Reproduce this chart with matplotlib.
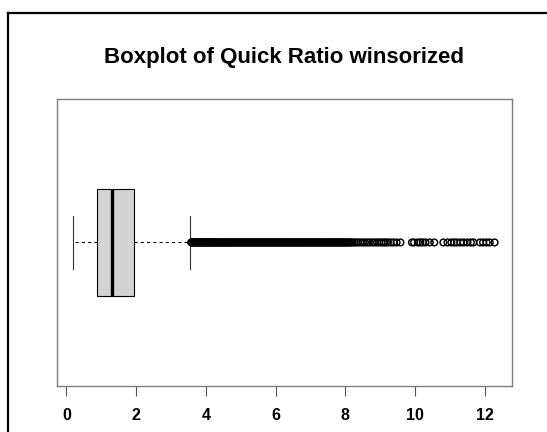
import matplotlib
matplotlib.use("Agg")
import matplotlib.pyplot as plt
from matplotlib.lines import Line2D

# Five-number summary of the winsorized quick ratio
whisker_low = 0.20
q1 = 0.87
median = 1.30
q3 = 1.95
whisker_high = 3.55

# Values beyond the upper whisker
outliers = [
    3.58, 3.60, 3.62, 3.64, 3.66, 3.68, 3.71, 3.73, 3.75, 3.77, 3.79, 3.81,
    3.84, 3.86, 3.88, 3.90, 3.92, 3.95, 3.97, 3.99,
    4.01, 4.03, 4.06, 4.08, 4.10, 4.12, 4.15, 4.17, 4.19, 4.21, 4.24, 4.26,
    4.28, 4.30, 4.33, 4.35, 4.37, 4.40, 4.42, 4.44,
    4.46, 4.49, 4.51, 4.53, 4.56, 4.58, 4.60, 4.63, 4.65, 4.67, 4.70, 4.72,
    4.74, 4.77, 4.79, 4.81, 4.84, 4.86, 4.89, 4.91,
    4.93, 4.96, 4.98, 5.01, 5.03, 5.05, 5.08, 5.10, 5.13, 5.15, 5.18, 5.20,
    5.22, 5.25, 5.27, 5.30, 5.32, 5.35, 5.37, 5.40,
    5.42, 5.45, 5.47, 5.50, 5.52, 5.55, 5.57, 5.60, 5.62, 5.65, 5.67, 5.70,
    5.72, 5.75, 5.77, 5.80, 5.83, 5.85, 5.88, 5.90,
    5.93, 5.95, 5.98, 6.01, 6.03, 6.06, 6.08, 6.11, 6.14, 6.16, 6.19, 6.21,
    6.24, 6.27, 6.29, 6.32, 6.35, 6.37, 6.40, 6.43,
    6.45, 6.48, 6.51, 6.53, 6.56, 6.59, 6.61, 6.64, 6.67, 6.69, 6.72, 6.75,
    6.78, 6.80, 6.83, 6.86, 6.88, 6.91, 6.94, 6.97,
    6.99, 7.02, 7.05, 7.08, 7.10, 7.13, 7.16, 7.19, 7.21, 7.24, 7.27, 7.30,
    7.33, 7.35, 7.38, 7.41, 7.44, 7.47, 7.49, 7.52,
    7.55, 7.58, 7.61, 7.63, 7.66, 7.69, 7.72, 7.75, 7.78, 7.80, 7.83, 7.86,
    7.89, 7.92, 7.95, 7.98, 8.01, 8.04, 8.07, 8.10,
    8.13, 8.17, 8.20,
    8.26, 8.31, 8.36, 8.43, 8.50, 8.56, 8.63, 8.70, 8.78, 8.84, 8.91, 8.97,
    9.04, 9.10, 9.16, 9.22, 9.30, 9.38, 9.47, 9.58,
    9.91, 9.97, 10.08, 10.15, 10.22, 10.30, 10.42, 10.55,
    10.81, 10.93, 11.04, 11.12, 11.20, 11.30, 11.39, 11.50, 11.60, 11.67,
    11.86, 11.95, 12.05, 12.14, 12.28,
]

title = "Boxplot of Quick Ratio winsorized"
x_ticks = [0, 2, 4, 6, 8, 10, 12]

W, H, DPI = 547, 432, 100
fig = plt.figure(figsize=(W / DPI, H / DPI), dpi=DPI)
fig.patch.set_facecolor("white")

font = ["Liberation Sans", "DejaVu Sans"]

ax = fig.add_axes([56.9 / W, 1 - 386.2 / H, (511.7 - 56.9) / W, (386.2 - 98.7) / H])

stats = [{
    "whislo": whisker_low, "q1": q1, "med": median, "q3": q3,
    "whishi": whisker_high, "fliers": [],
}]
ax.bxp(
    stats,
    positions=[1],
    widths=0.4,
    capwidths=0.2,
    orientation="horizontal",
    patch_artist=True,
    showfliers=False,
    boxprops=dict(facecolor="#d3d3d3", edgecolor="black", linewidth=0.8),
    medianprops=dict(color="black", linewidth=2.4, solid_capstyle="butt"),
    whiskerprops=dict(color="black", linewidth=0.75, linestyle=(0, (3, 3))),
    capprops=dict(color="#333333", linewidth=0.8),
)

# Outlying observations as open circles on the box's centre line
ax.scatter(outliers, [1] * len(outliers), s=4.8 ** 2, marker="o",
           facecolors="none", edgecolors="black", linewidths=1.05, zorder=3)

ax.set_xlim(-0.27, 12.77)
ax.set_ylim(0.46, 1.54)
ax.set_yticks([])
ax.set_xticks(x_ticks)
ax.set_xticklabels([str(t) for t in x_ticks], fontfamily=font,
                   fontweight="bold", fontsize=11.5)
ax.tick_params(axis="x", direction="out", length=7.5, width=0.8,
               color="#555555", pad=8, labelcolor="black")
for sp in ax.spines.values():
    sp.set_color("#7f7f7f")
    sp.set_linewidth(1.0)

fig.text(284.5 / W, 1 - 57.5 / H, title, ha="center", va="center",
         fontfamily=font, fontweight="bold", fontsize=16)

# Outer frame (top and left edges visible)
fig.add_artist(Line2D([8 / W, 1.0], [1 - 13 / H, 1 - 13 / H],
                      transform=fig.transFigure, color="black", linewidth=1.6))
fig.add_artist(Line2D([8 / W, 8 / W], [0.0, 1 - 13 / H],
                      transform=fig.transFigure, color="black", linewidth=1.6))

fig.savefig("out.png", dpi=DPI)
